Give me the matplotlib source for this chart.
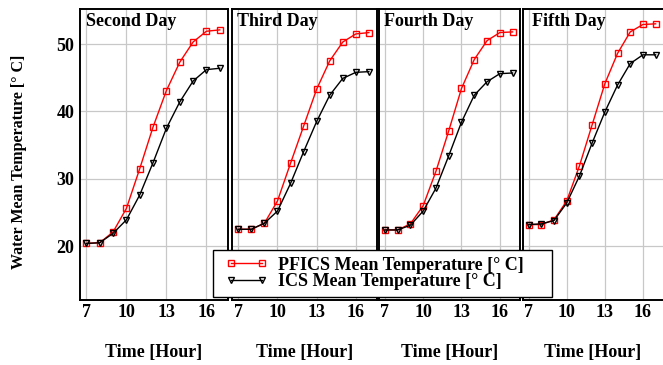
import matplotlib
matplotlib.use("Agg")
import matplotlib.pyplot as plt
from matplotlib.lines import Line2D
from matplotlib.patches import Rectangle

plt.rcParams['font.family'] = ['Liberation Serif', 'DejaVu Serif']
plt.rcParams['font.weight'] = 'bold'

# hours of the day
hours = [7, 8, 9, 10, 11, 12, 13, 14, 15, 16, 17]

day_titles = ['Second Day', 'Third Day', 'Fourth Day', 'Fifth Day']

# PFICS mean water temperature [deg C]
pfics_day2 = [20.4, 20.5, 22.1, 25.6, 31.5, 37.7, 43.1, 47.3, 50.3, 51.9, 52.1]
pfics_day3 = [22.5, 22.5, 23.4, 26.7, 32.3, 37.8, 43.3, 47.5, 50.3, 51.5, 51.7]
pfics_day4 = [22.4, 22.4, 23.3, 26.0, 31.1, 37.1, 43.4, 47.7, 50.5, 51.7, 51.8]
pfics_day5 = [23.2, 23.2, 23.9, 26.7, 31.9, 38.0, 44.1, 48.6, 51.8, 52.9, 53.0]

# ICS mean water temperature [deg C]
ics_day2 = [20.4, 20.5, 21.9, 23.9, 27.6, 32.4, 37.5, 41.4, 44.5, 46.2, 46.4]
ics_day3 = [22.5, 22.5, 23.4, 25.2, 29.3, 34.0, 38.5, 42.4, 44.9, 45.8, 45.9]
ics_day4 = [22.4, 22.4, 23.1, 25.2, 28.6, 33.4, 38.4, 42.4, 44.4, 45.6, 45.7]
ics_day5 = [23.2, 23.3, 23.8, 26.4, 30.4, 35.3, 39.9, 43.9, 47.1, 48.4, 48.4]

pfics_all = [pfics_day2, pfics_day3, pfics_day4, pfics_day5]
ics_all = [ics_day2, ics_day3, ics_day4, ics_day5]

W, H = 663, 365
fig = plt.figure(figsize=(W / 100, H / 100), dpi=100)

# panel edges in pixels (left, right), top and bottom shared
panel_px = [(80, 227.5), (232, 376.5), (378.7, 520), (522.5, 663)]
top_px, bottom_px = 9, 300
title_off = [6, 5, 5, 9]

for i, (l, r) in enumerate(panel_px):
    ax = fig.add_axes([l / W, 1 - bottom_px / H, (r - l) / W, (bottom_px - top_px) / H])
    ax.plot(hours, pfics_all[i], color='red', lw=1.0, marker='s', ms=5,
            mfc='none', mec='red', mew=1.0)
    ax.plot(hours, ics_all[i], color='black', lw=1.0, marker='v', ms=5,
            mfc='none', mec='black', mew=1.0)
    ax.set_xlim(6.52, 17.58)
    ax.set_ylim(12, 55.2)
    ax.set_xticks([7, 10, 13, 16])
    ax.set_yticks([20, 30, 40, 50])
    ax.grid(True, color='#c8c8c8', lw=0.9)
    ax.set_axisbelow(True)
    ax.tick_params(length=0, labelsize=13, pad=3)
    if i > 0:
        ax.tick_params(labelleft=False)
    else:
        ax.tick_params(axis='y', pad=4)
    for s in ax.spines.values():
        s.set_linewidth(1.4)
    if i == 3:
        ax.spines['right'].set_visible(False)
    for lab in ax.get_xticklabels() + ax.get_yticklabels():
        lab.set_fontweight('bold')
    ax.text(title_off[i] / (r - l), 1 - 13 / (bottom_px - top_px), day_titles[i],
            transform=ax.transAxes, ha='left', va='center', fontsize=13,
            fontweight='bold')
    fig.text((l + r) / 2 / W, 1 - 353 / H, 'Time [Hour]', ha='center', va='center',
             fontsize=13, fontweight='bold')

fig.text(19 / W, 1 - 162 / H, 'Water Mean Temperature [° C]', rotation=90,
         ha='center', va='center', fontsize=11.5, fontweight='bold')

# legend box drawn separately so the padding matches
fig.patches.append(Rectangle((213 / W, 1 - 297 / H), 339 / W, 47 / H,
                             transform=fig.transFigure, facecolor='white',
                             edgecolor='black', lw=1.0, zorder=5))

handles = [
    Line2D([], [], color='red', lw=1.0, marker='s', ms=4.5, mfc='none', mec='red'),
    Line2D([], [], color='black', lw=1.0, marker='v', ms=4.5, mfc='none', mec='black'),
]
labels = ['PFICS Mean Temperature [° C]', 'ICS Mean Temperature [° C]']
leg = fig.legend(handles, labels, loc='center left',
                 bbox_to_anchor=(226 / W, 1 - 273.5 / H),
                 numpoints=2, frameon=False, borderpad=0, borderaxespad=0,
                 prop={'size': 13, 'weight': 'bold'}, handlelength=2.3,
                 handletextpad=0.6, labelspacing=0.0)
leg.set_zorder(6)

fig.savefig('out.png', dpi=100)
